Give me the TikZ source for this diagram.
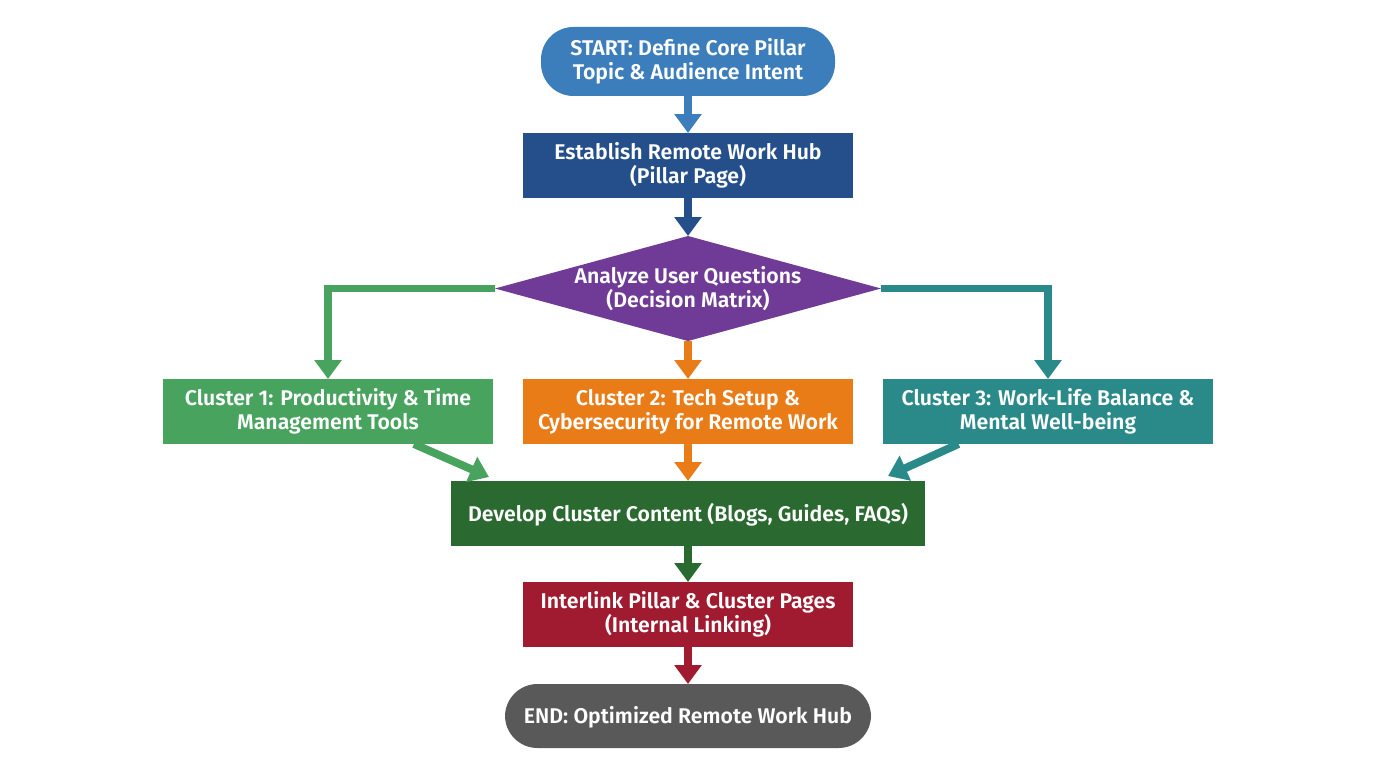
\documentclass[tikz,border=0pt]{standalone}
\usepackage{fontspec}
\setmainfont{Fira Sans}[BoldFont={Fira Sans SemiBold}]
\usetikzlibrary{positioning}
\usetikzlibrary{shapes.geometric}
\usetikzlibrary{arrows.meta}
\definecolor{startblue}{HTML}{3C7DBB}
\definecolor{hubblue}{HTML}{244F8B}
\definecolor{matrixpurple}{HTML}{6F3B96}
\definecolor{clustergreen}{HTML}{47A35E}
\definecolor{clusterorange}{HTML}{EA7C18}
\definecolor{clusterteal}{HTML}{2A8A8A}
\definecolor{contentgreen}{HTML}{2A6A30}
\definecolor{linkred}{HTML}{A01A30}
\definecolor{endgrey}{HTML}{595959}
\def\myvdist{0.74cm}
\def\myhdist{0.6cm}
\tikzset{
my node/.style={text=white,font=\fontsize{12.1}{13.6}\selectfont\bfseries,align=center,inner sep=0mm,outer sep=0mm,execute at begin node={\rule{0pt}{11.2pt}}},
my box/.style={my node,rectangle,fill=#1,minimum width=6.6cm,minimum height=1.3cm},
my pill/.style={my node,rectangle,rounded corners=0.65cm,fill=#1,minimum height=1.28cm},
my diamond/.style={my node,diamond,fill=#1,minimum width=7.72cm,minimum height=2.1cm,aspect=3.68,inner sep=-8pt},
my arrow/.style={draw=#1,line width=4.5pt,-{Triangle[width=15pt,length=10.8pt]}},
}
\begin{document}
\begin{tikzpicture}[node distance=\myvdist]
\useasboundingbox (0,0) rectangle (27.52,-15.36);
\node[my pill=startblue,minimum width=5.88cm,minimum height=1.38cm] (start) at (13.76,-1.23) {START: Define Core Pillar\\Topic \& Audience Intent};
\node[my box=hubblue,below=of start] (hub) {Establish Remote Work Hub\\(Pillar Page)};
\node[my diamond=matrixpurple,below=0.76cm of hub] (analyze) {Analyze User Questions\\(Decision Matrix)};
\node[my box=clusterorange,below=0.76cm of analyze] (tech) {Cluster 2: Tech Setup \&\\Cybersecurity for Remote Work};
\node[my box=clustergreen,left=\myhdist of tech] (prod) {Cluster 1: Productivity \& Time\\Management Tools};
\node[my box=clusterteal,right=\myhdist of tech] (life) {Cluster 3: Work-Life Balance \&\\Mental Well-being};
\node[my box=contentgreen,minimum width=9.48cm,below=of tech] (dev) {Develop Cluster Content (Blogs, Guides, FAQs)};
\node[my box=linkred,below=0.72cm of dev] (link) {Interlink Pillar \& Cluster Pages\\(Internal Linking)};
\node[my pill=endgrey,minimum width=7.32cm,below=of link] (end) {END: Optimized Remote Work Hub};

\coordinate (prod out) at ([xshift=1.72cm]prod.south);
\coordinate (dev in1) at ([xshift=0.76cm,yshift=0.08cm]dev.north west);
\coordinate (life out) at ([xshift=-1.79cm]life.south);
\coordinate (dev in2) at ([xshift=-0.74cm,yshift=0.1cm]dev.north east);

\draw[my arrow=startblue] (start) -- (hub);
\draw[my arrow=hubblue] (hub) -- (analyze);
\draw[my arrow=clustergreen] (analyze.west) -| (prod.north);
\draw[my arrow=clusterorange] (analyze) -- (tech);
\draw[my arrow=clusterteal] (analyze.east) -| (life.north);
\draw[my arrow=clustergreen] (prod out) -- (dev in1);
\draw[my arrow=clusterorange] (tech) -- (dev);
\draw[my arrow=clusterteal] (life out) -- (dev in2);
\draw[my arrow=contentgreen] (dev) -- (link);
\draw[my arrow=linkred] (link) -- (end);
\end{tikzpicture}
\end{document}
